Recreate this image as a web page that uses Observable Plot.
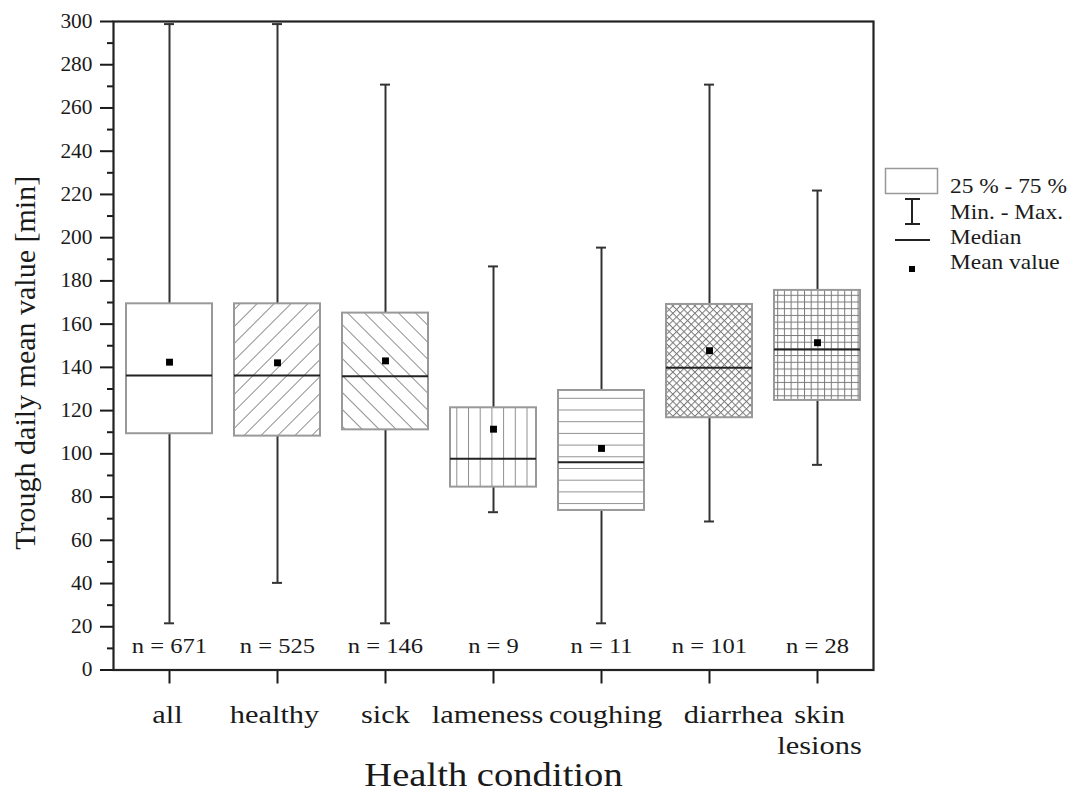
<!DOCTYPE html>
<html>
<head>
<meta charset="utf-8">
<script src="https://cdn.jsdelivr.net/npm/d3@7"></script>
<script src="https://cdn.jsdelivr.net/npm/@observablehq/plot@0.6"></script>
<style>
  html, body { margin: 0; padding: 0; background: #fff; }
  #chart svg { display: block; }
</style>
</head>
<body>
<div id="chart"></div>
<script>
// ---- data ----
const categories = ["all", "healthy", "sick", "lameness", "coughing", "diarrhea", "skin lesions"];
const minValues    = [21.6, 40.3, 21.6, 73.0, 21.6, 68.7, 94.9];
const q1Values     = [109.3, 108.2, 111.1, 84.6, 73.8, 116.7, 124.7];
const medianValues = [136.2, 136.2, 135.9, 97.7, 96.1, 139.8, 148.3];
const q3Values     = [169.4, 169.4, 165.1, 121.3, 129.3, 169.1, 175.6];
const maxValues    = [298.8, 298.8, 270.8, 186.7, 195.4, 270.8, 221.8];
const meanValues   = [142.4, 142.1, 143.0, 111.4, 102.5, 147.7, 151.4];
const nLabels      = ["n = 671", "n = 525", "n = 146", "n = 9", "n = 11", "n = 101", "n = 28"];
const yTicks       = d3.range(0, 301, 20);
const yMinorTicks  = d3.range(10, 300, 20);
const legendLabels = ["25 % - 75 %", "Min. - Max.", "Median", "Mean value"];
const xTitle = "Health condition";
const yTitle = "Trough daily mean value [min]";

const table = categories.map((c, i) => ({
  category: c, min: minValues[i], q1: q1Values[i], median: medianValues[i],
  q3: q3Values[i], max: maxValues[i], mean: meanValues[i], n: nLabels[i],
  pattern: `url(#pat${i})`
}));

// layout tweak: horizontal nudges of the category labels, as placed in the reference
const labelNudge = [-2, -3, 0, -6, 4, 24, 2];

const FONT = "'Liberation Serif', 'Times New Roman', serif";
const INK = "#1a1a1a";

const svg = Plot.plot({
  width: 1071,
  height: 794,
  marginLeft: 113,
  marginRight: 198,
  marginTop: 21,
  marginBottom: 124.5,
  style: { fontFamily: FONT, color: INK, background: "#fff", overflow: "visible" },
  x: { domain: categories, paddingInner: 0.2, paddingOuter: 0.1, label: null },
  y: { domain: [0, 300], label: null },
  color: { type: "identity" },
  marks: [
    // whiskers
    Plot.ruleX(table, { x: "category", y1: "min", y2: "q1", stroke: "#333", strokeWidth: 2 }),
    Plot.ruleX(table, { x: "category", y1: "q3", y2: "max", stroke: "#333", strokeWidth: 2 }),
    Plot.tickY(table, { x: "category", y: "min", insetLeft: 38, insetRight: 38, stroke: "#333", strokeWidth: 2 }),
    Plot.tickY(table, { x: "category", y: "max", insetLeft: 38, insetRight: 38, stroke: "#333", strokeWidth: 2 }),
    // boxes
    Plot.barY(table, { x: "category", y1: "q1", y2: "q3", fill: "pattern", stroke: "#999", strokeWidth: 2 }),
    // medians
    Plot.tickY(table, { x: "category", y: "median", stroke: "#222", strokeWidth: 2 }),
    // means
    Plot.dot(table, { x: "category", y: "mean", symbol: "square", r: 3.9, fill: "#000", stroke: "none" }),
    // n labels
    Plot.text(table, { x: "category", text: "n", frameAnchor: "bottom", lineAnchor: "middle", dy: -24, fontSize: 21, fill: INK }),
    // axes
    Plot.axisY({ ticks: yMinorTicks, tickSize: 6, tickFormat: () => "", strokeWidth: 2, label: null }),
    Plot.axisY({ ticks: yTicks, tickSize: 13, tickPadding: 8, fontSize: 20, strokeWidth: 2, label: null }),
    Plot.axisX({
      tickSize: 14, tickPadding: 16, fontSize: 26, strokeWidth: 2, lineHeight: 1.22, label: null,
      tickFormat: d => d.replace(" ", "\n")
    }),
    Plot.frame({ stroke: "#222", strokeWidth: 2.2 }),
    // axis titles
    Plot.text([xTitle], { frameAnchor: "bottom", lineAnchor: "middle", textAnchor: "middle", dy: 105, fontSize: 33, fill: INK }),
    Plot.text([yTitle], { frameAnchor: "left", lineAnchor: "middle", textAnchor: "middle", dx: -88, dy: 17, rotate: -90, fontSize: 30, fill: INK })
  ]
});

// ---- patterns ----
const root = d3.select(svg);
const defs = root.insert("defs", ":first-child");
const pc = "#8f8f8f";
function linePattern(id, w, h, rot, lines, color) {
  const p = defs.append("pattern").attr("id", id).attr("patternUnits", "userSpaceOnUse")
    .attr("width", w).attr("height", h);
  if (rot) p.attr("patternTransform", `rotate(${rot})`);
  p.append("rect").attr("width", w).attr("height", h).attr("fill", "#fff");
  lines.forEach(([x1, y1, x2, y2]) => p.append("line")
    .attr("x1", x1).attr("y1", y1).attr("x2", x2).attr("y2", y2)
    .attr("stroke", color || pc).attr("stroke-width", 1));
}
linePattern("pat0", 10, 10, 0, []);
linePattern("pat1", 12, 12, 45, [[0.5, 0, 0.5, 12]]);
linePattern("pat2", 12, 12, -45, [[0.5, 0, 0.5, 12]]);
linePattern("pat3", 11.7, 11.7, 0, [[0.5, 0, 0.5, 11.7]]);
linePattern("pat4", 11.7, 11.7, 0, [[0, 0.5, 11.7, 0.5]]);
linePattern("pat5", 5.2, 5.2, 45, [[0.5, 0, 0.5, 5.2], [0, 0.5, 5.2, 0.5]], "#7a7a7a");
linePattern("pat6", 6.7, 6.7, 0, [[0.5, 0, 0.5, 6.7], [0, 0.5, 6.7, 0.5]], "#7a7a7a");

// ---- nudge category labels ----
root.selectAll('g[aria-label="x-axis tick label"] text').each(function (d, i) {
  const t = d3.select(this);
  const tr = t.attr("transform") || "";
  t.attr("transform", `translate(${labelNudge[i] || 0},0) ${tr}`);
});

// ---- widen serif text horizontally (reference glyphs are wider than Times) ----
root.selectAll("text").each(function () {
  const t = d3.select(this);
  const tr = t.attr("transform") || "";
  if (tr.includes("rotate")) return;
  const inY = this.closest('g[aria-label="y-axis tick label"]');
  const s = inY ? 1.07 : 1.17;
  if (tr.includes("translate")) {
    t.attr("transform", `${tr} scale(${s},1)`);
  } else {
    const x = +t.attr("x") || 0;
    t.attr("transform", `translate(${x},0) scale(${s},1) translate(${-x},0)`);
  }
});

// ---- legend (right margin) ----
const lg = root.append("g").attr("font-family", FONT).attr("fill", INK)
  .attr("font-size", 20).attr("text-anchor", "start");
lg.append("rect").attr("x", 885.5).attr("y", 168.5).attr("width", 52).attr("height", 25)
  .attr("fill", "#fff").attr("stroke", "#999").attr("stroke-width", 1.5);
const beam = lg.append("g").attr("stroke", "#222").attr("stroke-width", 2);
beam.append("line").attr("x1", 912).attr("x2", 912).attr("y1", 199).attr("y2", 224);
beam.append("line").attr("x1", 905).attr("x2", 920).attr("y1", 199).attr("y2", 199);
beam.append("line").attr("x1", 905).attr("x2", 920).attr("y1", 224).attr("y2", 224);
lg.append("line").attr("x1", 895).attr("x2", 930).attr("y1", 240).attr("y2", 240)
  .attr("stroke", "#222").attr("stroke-width", 2);
lg.append("rect").attr("x", 909).attr("y", 266).attr("width", 6).attr("height", 6).attr("fill", "#000");
const ly = [193, 219, 244, 269];
legendLabels.forEach((t, i) => lg.append("text")
  .attr("transform", `translate(950,${ly[i]}) scale(1.17,1)`).text(t));

document.getElementById("chart").appendChild(svg);
</script>
</body>
</html>
